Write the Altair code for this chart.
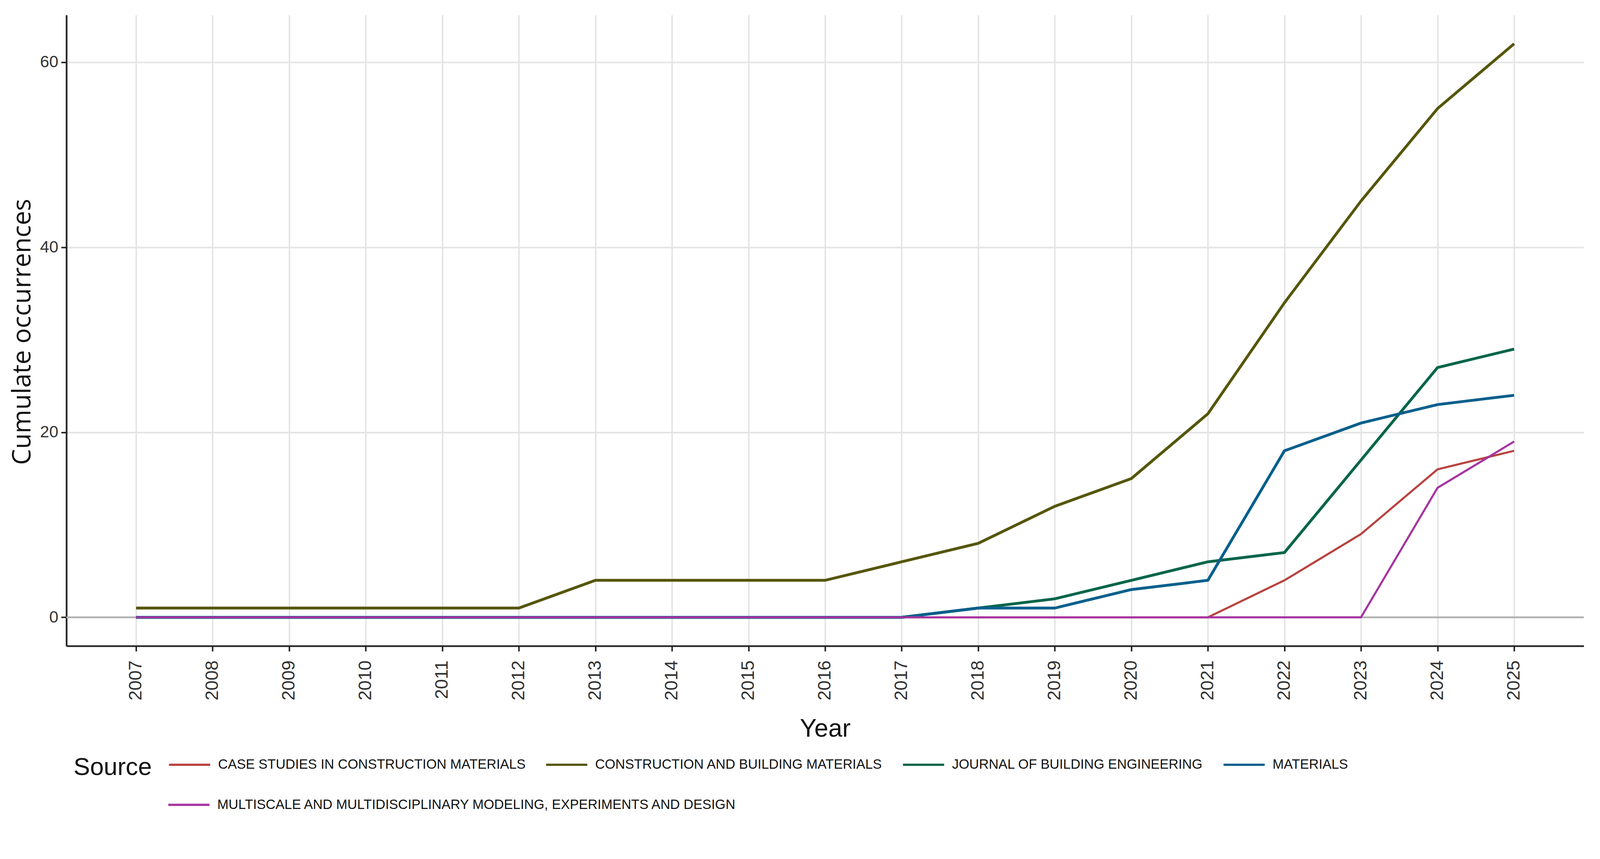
import altair as alt
import pandas as pd

years = [2007, 2008, 2009, 2010, 2011, 2012, 2013, 2014, 2015, 2016,
         2017, 2018, 2019, 2020, 2021, 2022, 2023, 2024, 2025]

sources = [
    "CASE STUDIES IN CONSTRUCTION MATERIALS",
    "CONSTRUCTION AND BUILDING MATERIALS",
    "JOURNAL OF BUILDING ENGINEERING",
    "MATERIALS",
    "MULTISCALE AND MULTIDISCIPLINARY MODELING, EXPERIMENTS AND DESIGN",
]
colors = ["#b8433f", "#55560a", "#05654a", "#055f8c", "#a5349f"]

case_studies = [0, 0, 0, 0, 0, 0, 0, 0, 0, 0, 0, 0, 0, 0, 0, 4, 9, 16, 18]
constr_building = [1, 1, 1, 1, 1, 1, 4, 4, 4, 4, 6, 8, 12, 15, 22, 34, 45, 55, 62]
journal_build_eng = [0, 0, 0, 0, 0, 0, 0, 0, 0, 0, 0, 1, 2, 4, 6, 7, 17, 27, 29]
materials = [0, 0, 0, 0, 0, 0, 0, 0, 0, 0, 0, 1, 1, 3, 4, 18, 21, 23, 24]
multiscale = [0, 0, 0, 0, 0, 0, 0, 0, 0, 0, 0, 0, 0, 0, 0, 0, 0, 14, 19]

y_ticks = [0, 20, 40, 60]
zero_line = [0]

series = [case_studies, constr_building, journal_build_eng, materials, multiscale]
rows = []
for s, vals in zip(sources, series):
    for yr, v in zip(years, vals):
        rows.append({"Year": yr, "Source": s, "Value": v})
df = pd.DataFrame(rows)
df_a = df[df["Source"].isin(sources[:4])]
df_b = df[df["Source"] == sources[4]]

y_scale = alt.Scale(domain=[-3.1, 65.1], nice=False, zero=False)
x_scale = alt.Scale(domain=[2006.09, 2025.91], nice=False, zero=False)

x_axis = alt.Axis(
    values=years, format="d", labelAngle=270, title="Year",
    labelFont="Liberation Sans", labelFontSize=48, labelColor="#333333",
    labelPadding=24, tickSize=14, tickWidth=4, tickColor="#222222",
    domainColor="#222222", domainWidth=4.5,
    grid=True, gridColor="#e4e4e4", gridWidth=4,
    titleFont="Liberation Sans", titleFontSize=67, titleFontWeight="normal",
    titleColor="#111111", titleY=242, titleBaseline="alphabetic",
)
y_axis = alt.Axis(
    values=y_ticks, format="d", title="Cumulate occurrences",
    labelFont="Liberation Sans", labelFontSize=44, labelColor="#333333",
    labelPadding=8, tickSize=14, tickWidth=4, tickColor="#222222",
    domainColor="#222222", domainWidth=4.5,
    grid=True, gridColor="#e4e4e4", gridWidth=4,
    titleFont="Open Sans", titleFontSize=68, titleFontWeight="normal",
    titleColor="#111111", titleX=-97, titleY=845, titleAngle=270,
    titleAlign="center", titleBaseline="alphabetic",
)

legend_common = dict(
    orient="none", direction="horizontal",
    columnPadding=42, rowPadding=0,
    symbolType="stroke", symbolSize=12100, symbolStrokeWidth=6,
    labelFont="Liberation Sans", labelFontSize=36, labelColor="#111111",
    labelOffset=18, labelLimit=3000,
)

rule = alt.Chart(pd.DataFrame({"v": zero_line})).mark_rule(
    color="#b3b3b3", strokeWidth=5
).encode(y=alt.Y("v:Q", scale=y_scale, axis=y_axis, title="Cumulate occurrences"))

lines_a = alt.Chart(df_a).mark_line().encode(
    x=alt.X("Year:Q", scale=x_scale, axis=x_axis),
    y=alt.Y("Value:Q", scale=y_scale, axis=y_axis),
    color=alt.Color(
        "Source:N",
        scale=alt.Scale(domain=sources[:4], range=colors[:4]),
        legend=alt.Legend(
            title="Source", legendX=19, legendY=1943, columns=4,
            titleOrient="left", titleFont="Liberation Sans", titleFontSize=66,
            titleFontWeight="normal", titleColor="#111111", titlePadding=42,
            titleLimit=1000, titleBaseline="line-top", titleLineHeight=56,
            **legend_common,
        ),
    ),
    strokeWidth=alt.condition(
        alt.datum.Source == sources[0], alt.value(5.5), alt.value(7.5)
    ),
)

lines_b = alt.Chart(df_b).mark_line(strokeWidth=5.5).encode(
    x=alt.X("Year:Q", scale=x_scale, axis=x_axis),
    y=alt.Y("Value:Q", scale=y_scale, axis=y_axis),
    color=alt.Color(
        "Source:N",
        scale=alt.Scale(domain=sources[4:], range=colors[4:]),
        legend=alt.Legend(
            title=None, legendX=269, legendY=2050, columns=1,
            **legend_common,
        ),
    ),
)

chart = alt.layer(rule, lines_a, lines_b).resolve_scale(
    color="independent"
).properties(
    width=4052,
    height=1684,
    autosize=alt.AutoSizeParams(type="none"),
    padding={"left": 169, "top": -14, "right": 35, "bottom": 460},
    background="white",
).configure_view(strokeWidth=0)

chart.save("out.html", embed_options={"renderer": "svg", "actions": False})
